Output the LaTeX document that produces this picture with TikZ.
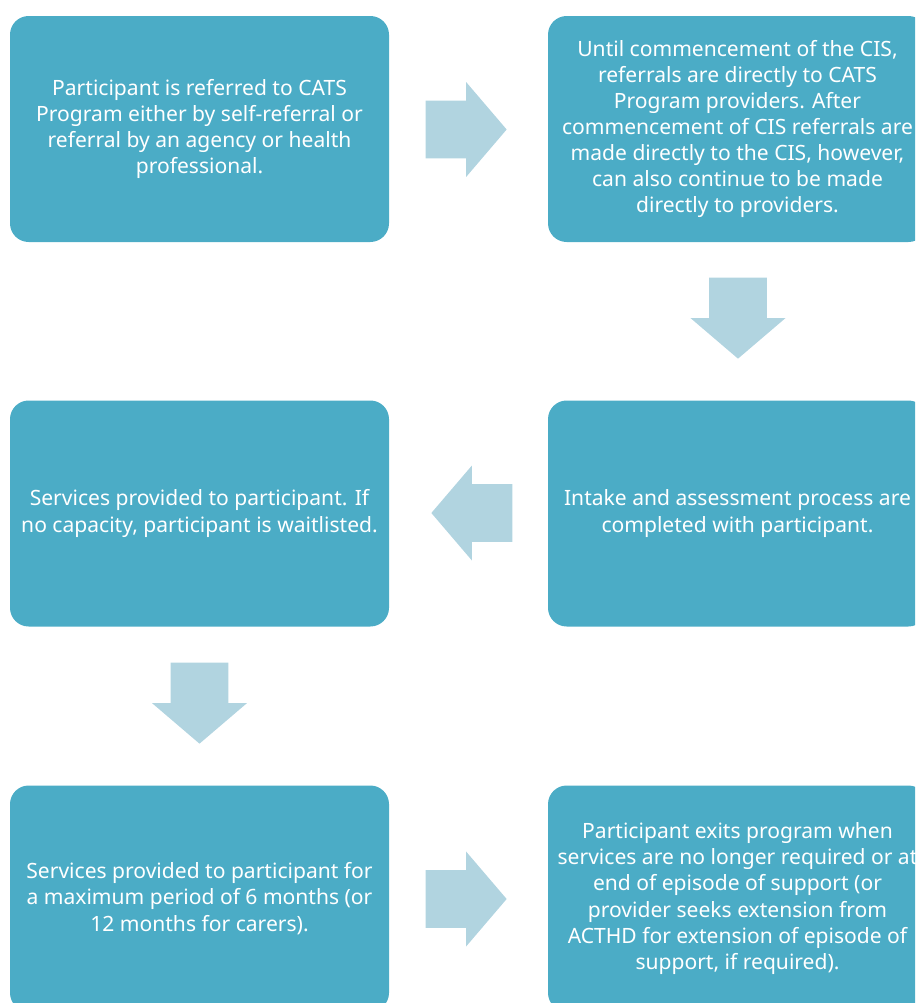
\documentclass[tikz,border=0pt]{standalone}
\usepackage{fontspec}
\setmainfont{Noto Sans}
\usetikzlibrary{shapes.arrows}
\definecolor{aquabox}{RGB}{75, 172, 198}
\definecolor{paleblue}{RGB}{177, 212, 224}
\definecolor{white}{RGB}{255, 255, 255}

\begin{document}
\begin{tikzpicture}[
        x=0.75pt, y=-0.75pt,
        stepbox/.style={
            rectangle,
            rounded corners=14pt,
            fill=aquabox,
            text=white,
            align=center,
            inner sep=0pt,
            minimum width=284.25pt,
            minimum height=169.5pt,
            font=\fontsize{15.8}{19.6}\selectfont
        },
        flowarrow/.style={
            single arrow,
            fill=paleblue,
            draw=none,
            anchor=tip,
            inner xsep=0pt,
            inner ysep=21.4pt,
            minimum height=60.75pt,
            single arrow head extend=13.9pt,
            single arrow tip angle=99
        }
    ]
    \useasboundingbox (0,0) rectangle (915,1003);
    \clip (0,0) rectangle (915,1003);

    % boxes
    \node[stepbox] (referred) at (199.5,129)
        {Participant is referred to CATS\\Program either by self-referral or\\referral by an agency or health\\professional.};
    \node[stepbox] (referrals) at (737.5,129)
        {Until commencement of the CIS,\\referrals are directly to CATS\\Program providers. After\\commencement of CIS referrals are\\made directly to the CIS, however,\\can also continue to be made\\directly to providers.};
    \node[stepbox] (intake) at (737.5,513.5)
        {Intake and assessment process are\\completed with participant.};
    \node[stepbox] (services) at (199.5,513.5)
        {Services provided to participant. If\\no capacity, participant is waitlisted.};
    \node[stepbox] (maxperiod) at (199.5,898.5)
        {Services provided to participant for\\a maximum period of 6 months (or\\12 months for carers).};
    \node[stepbox] (exits) at (737.5,898.5)
        {Participant exits program when\\services are no longer required or at\\end of episode of support (or\\provider seeks extension from\\ACTHD for extension of episode of\\support, if required).};

    % block arrows (placed by their tips)
    \node[flowarrow] (arrowa) at (507,129.5) {};
    \node[flowarrow, rotate=-90] (arrowb) at (738,359) {};
    \node[flowarrow, rotate=180] (arrowc) at (431,513) {};
    \node[flowarrow, rotate=-90] (arrowd) at (199.5,744) {};
    \node[flowarrow] (arrowe) at (507,899) {};
\end{tikzpicture}
\end{document}
